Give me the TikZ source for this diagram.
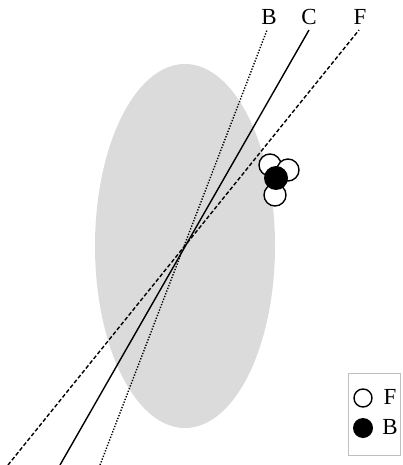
\documentclass[tikz,border=0pt]{standalone}
\usepackage{fontspec}
\setmainfont{Liberation Serif}
\begin{document}
\begin{tikzpicture}[x=1pt, y=-1pt,
    lab/.style={font=\fontsize{23}{27}\selectfont, inner sep=0pt},
    lineF/.style={line width=1.4pt, dash pattern=on 4pt off 2.2pt},
    lineC/.style={line width=1.4pt},
    lineB/.style={line width=1.4pt, dash pattern=on 1.3pt off 1.6pt}]
\useasboundingbox (0,0) rectangle (403,465);

% --- Ellisse ---
\fill[black!14] (185,246) ellipse [x radius=90, y radius=182];

% --- Rette ---
\coordinate (O) at (182,249);
\foreach \n/\xb/\xt/\xl in {F/8/359/360, C/60/309/309, B/100/267/269}{
    \coordinate (\n bot) at (\xb,465);
    \coordinate (\n top) at (\xt,30);
    \draw[line\n] (\n bot) -- (\n top);
    \node[lab] (lab\n) at (\xl,17) {\n};
}

% --- Cerchi ---
\foreach \x/\y in {270/165, 288/170, 275/195}{
    \filldraw[fill=white, line width=1.4pt] (\x,\y) circle (11);
}
\fill (276,178) circle (12);

% --- Legenda ---
\draw[gray!50, line width=0.8pt] (348,373) rectangle (400,455);
\draw[line width=1.4pt] (363,398) circle (9);
\fill (363,428) circle (10);
\node[lab] (legF) at (390,397) {F};
\node[lab] (legB) at (390,427) {B};

\end{tikzpicture}
\end{document}
